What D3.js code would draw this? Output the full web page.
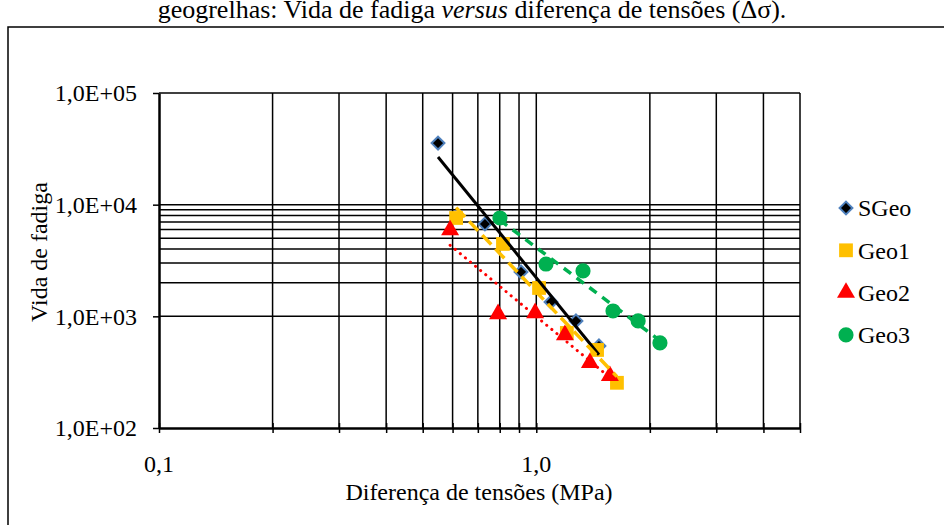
<!DOCTYPE html>
<html>
<head>
<meta charset="utf-8">
<script src="https://cdn.jsdelivr.net/npm/d3@7"></script>
<style>
  body { margin: 0; background: white; }
  text { font-family: "Liberation Serif", "Times New Roman", serif; fill: black; }
</style>
</head>
<body>
<div id="root"></div>
<script>
// Data
var seriesNames = ["SGeo", "Geo1", "Geo2", "Geo3"];

var sgeoX = [0.549, 0.731, 0.911, 1.094, 1.274, 1.466];
var sgeoY = [35600, 6710, 2500, 1344, 910, 543];

var geo1X = [0.613, 0.816, 1.017, 1.205, 1.449, 1.636];
var geo1Y = [7600, 4450, 1795, 710, 500, 254];

var geo2X = [0.591, 0.792, 0.993, 1.191, 1.387, 1.567];
var geo2Y = [6050, 1072, 1094, 695, 391, 299];

var geo3X = [0.801, 1.061, 1.330, 1.597, 1.862, 2.127];
var geo3Y = [7600, 2940, 2550, 1117, 910, 578];

var xGridValues = [0.2, 0.3, 0.4, 0.5, 0.6, 0.7, 0.8, 0.9, 1, 2, 3, 4, 5];
var yGridValues = [1000, 2000, 3000, 4000, 5000, 6000, 7000, 8000, 9000, 10000, 100000];
var xTickLabels = [0.1, 1];
var yTickLabels = [100, 1000, 10000, 100000];

var width = 944, height = 525;
var plot = {left: 159, right: 800, top: 93, bottom: 428};

var svg = d3.select("#root")
            .append("svg")
            .attr("width", width)
            .attr("height", height);

// Outer frame
svg.append("path")
   .attr("d", "M8," + (height + 2) + " L8,27 L" + (width + 2) + ",27")
   .attr("fill", "none")
   .attr("stroke", "black")
   .attr("stroke-width", 1.5);

// Title (cut at top, as in the source)
var title = svg.append("text")
               .attr("x", 472)
               .attr("y", 18)
               .attr("text-anchor", "middle")
               .attr("font-size", 26);
title.append("tspan").text("geogrelhas: Vida de fadiga ");
title.append("tspan").attr("font-style", "italic").text("versus");
title.append("tspan").text(" diferença de tensões (Δσ).");

// Scales
var x = d3.scaleLog()
          .domain([0.1, 5])
          .range([plot.left, plot.right]);

var y = d3.scaleLog()
          .domain([100, 100000])
          .range([plot.bottom, plot.top]);

// Grid
svg.append("g")
   .selectAll("line")
   .data(xGridValues)
   .enter().append("line")
   .attr("x1", function (d) { return x(d); })
   .attr("x2", function (d) { return x(d); })
   .attr("y1", plot.top)
   .attr("y2", plot.bottom)
   .attr("stroke", "black")
   .attr("stroke-width", 1.5);

svg.append("g")
   .selectAll("line")
   .data(yGridValues)
   .enter().append("line")
   .attr("x1", plot.left)
   .attr("x2", plot.right)
   .attr("y1", function (d) { return y(d); })
   .attr("y2", function (d) { return y(d); })
   .attr("stroke", "black")
   .attr("stroke-width", 1.5);

// X axis
var xAxis = svg.append("g")
               .attr("transform", "translate(0," + plot.bottom + ")")
               .call(d3.axisBottom(x)
                       .tickValues([0.1].concat(xGridValues))
                       .tickSizeInner(5)
                       .tickSizeOuter(0)
                       .tickFormat(""));
xAxis.select(".domain").attr("stroke-width", 2.5);
xAxis.selectAll(".tick line")
     .attr("y1", -5)
     .attr("stroke-width", 1.5);

svg.append("g")
   .selectAll("text")
   .data(xTickLabels)
   .enter().append("text")
   .attr("x", function (d) { return x(d); })
   .attr("y", 472)
   .attr("text-anchor", "middle")
   .attr("font-size", 24)
   .text(function (d) { return d3.format(".1f")(d).replace(".", ","); });

// Y axis
var yAxis = svg.append("g")
               .attr("transform", "translate(" + plot.left + ",0)")
               .call(d3.axisLeft(y)
                       .tickValues(yTickLabels)
                       .tickSizeInner(6)
                       .tickSizeOuter(0)
                       .tickFormat(""));
yAxis.select(".domain").attr("stroke-width", 2.5);
yAxis.selectAll(".tick line").attr("stroke-width", 1.5);

svg.append("g")
   .selectAll("text")
   .data(yTickLabels)
   .enter().append("text")
   .attr("x", 137)
   .attr("y", function (d) { return y(d); })
   .attr("dy", "0.35em")
   .attr("text-anchor", "end")
   .attr("font-size", 24)
   .text(function (d) { return "1,0E+0" + Math.round(Math.log10(d)); });

// Axis titles
svg.append("text")
   .attr("x", 479)
   .attr("y", 500)
   .attr("text-anchor", "middle")
   .attr("font-size", 24)
   .text("Diferença de tensões (MPa)");

svg.append("text")
   .attr("transform", "translate(47,252) rotate(-90)")
   .attr("text-anchor", "middle")
   .attr("font-size", 24)
   .text("Vida de fadiga");

// Series
var series = [
  {name: seriesNames[0], xs: sgeoX, ys: sgeoY, color: "#000000", stroke: "#4F81BD", symbol: d3.symbolDiamond2, size: 105,
   dash: null, lineColor: "black", lineWidth: 3},
  {name: seriesNames[1], xs: geo1X, ys: geo1Y, color: "#FFC000", stroke: "none", symbol: d3.symbolSquare, size: 190,
   dash: "13,6", lineColor: "#FFC000", lineWidth: 3.5},
  {name: seriesNames[2], xs: geo2X, ys: geo2Y, color: "#FF0000", stroke: "none", symbol: d3.symbolTriangle, size: 140,
   dash: "0.1,6.5", lineColor: "#FF0000", lineWidth: 3},
  {name: seriesNames[3], xs: geo3X, ys: geo3Y, color: "#00B050", stroke: "none", symbol: d3.symbolCircle, size: 180,
   dash: "9,7", lineColor: "#00B050", lineWidth: 3.5}
];

function markerPath(s) {
  return d3.symbol().type(s.symbol).size(s.size)();
}

series.forEach(function (s) {
  svg.append("g")
     .selectAll("path")
     .data(s.xs.map(function (v, i) { return [v, s.ys[i]]; }))
     .enter().append("path")
     .attr("d", markerPath(s))
     .attr("transform", function (d) {
       var dy = s.symbol === d3.symbolTriangle ? 1 : 0;
       return "translate(" + x(d[0]) + "," + (y(d[1]) + dy) + ")";
     })
     .attr("fill", s.color)
     .attr("stroke", s.stroke)
     .attr("stroke-width", 2);
});

// Power trendlines (least squares in log-log)
function powerFit(xs, ys) {
  var lx = xs.map(Math.log10), ly = ys.map(Math.log10);
  var mx = d3.mean(lx), my = d3.mean(ly);
  var sxy = d3.sum(lx, function (v, i) { return (v - mx) * (ly[i] - my); });
  var sxx = d3.sum(lx, function (v) { return (v - mx) * (v - mx); });
  var b = sxy / sxx;
  var a = my - b * mx;
  return function (v) { return Math.pow(10, a + b * Math.log10(v)); };
}

var line = d3.line()
             .x(function (d) { return x(d[0]); })
             .y(function (d) { return y(d[1]); });

series.forEach(function (s) {
  var f = powerFit(s.xs, s.ys);
  var ends = d3.extent(s.xs);
  svg.append("path")
     .datum([[ends[0], f(ends[0])], [ends[1], f(ends[1])]])
     .attr("d", line)
     .attr("fill", "none")
     .attr("stroke", s.lineColor)
     .attr("stroke-width", s.lineWidth)
     .attr("stroke-dasharray", s.dash)
     .attr("stroke-linecap", s.dash && s.dash.indexOf("0.1") === 0 ? "round" : "butt");
});

// Legend
var legend = svg.selectAll(".legend")
                .data(series)
                .enter().append("g")
                .attr("class", "legend")
                .attr("transform", function (d, i) { return "translate(846," + (208 + i * 42.3) + ")"; });

legend.append("path")
      .attr("d", function (d) { return markerPath(d); })
      .attr("fill", function (d) { return d.color; })
      .attr("stroke", function (d) { return d.stroke; })
      .attr("stroke-width", 2);

legend.append("text")
      .attr("x", 12)
      .attr("dy", "0.35em")
      .attr("font-size", 24)
      .text(function (d) { return d.name; });
</script>
</body>
</html>
